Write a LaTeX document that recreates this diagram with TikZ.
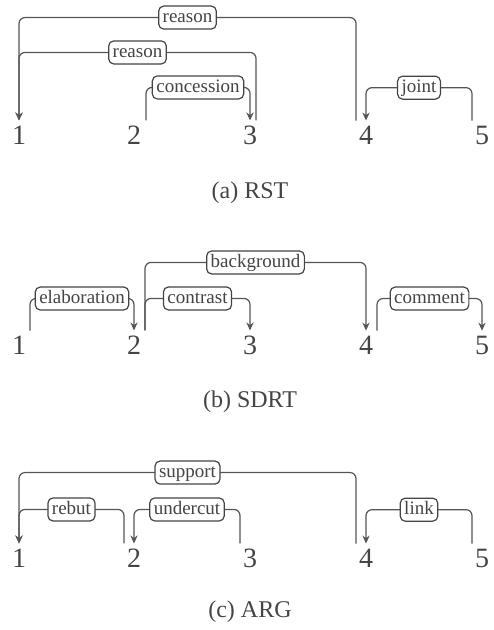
\documentclass[tikz,border=0pt]{standalone}
\usepackage{fontspec}
\setmainfont{Liberation Serif}
\usepackage{tikz}
\usetikzlibrary{arrows.meta}

\definecolor{txtgray}{HTML}{444444}
\definecolor{linegray}{HTML}{555555}

\begin{document}
\begin{tikzpicture}[x=0.5pt,y=0.5pt,>={Stealth[length=4pt,width=3.6pt]},
  num/.style={font=\fontsize{14}{16}\selectfont,text=txtgray,inner xsep=0pt,inner ysep=3pt,outer sep=0pt,anchor=base},
  rel/.style={draw=linegray,line width=0.6pt,rounded corners=3pt},
  lbl/.style={draw=txtgray,fill=white,rounded corners=2.5pt,inner xsep=2pt,inner ysep=1.25pt,
    text height=6.8pt,text depth=2.2pt,font=\fontsize{9.5}{11}\selectfont,text=txtgray},
  capt/.style={font=\fontsize{12}{14}\selectfont,text=txtgray,anchor=base}]

  \useasboundingbox (0,0) rectangle (493,630);

  % (a) RST
  \node[num] (a1) at (19,485)  {1};
  \node[num] (a2) at (134,485) {2};
  \node[num] (a3) at (250,485) {3};
  \node[num] (a4) at (366,485) {4};
  \node[num] (a5) at (482,485) {5};
  \draw[rel,->] ([xshift=-5pt]a4.north) -- ++(0,103) -| node[lbl,pos=0.25] {reason} (a1.north);
  \draw[rel,->] ([xshift=3pt]a3.north) -- ++(0,68) -| node[lbl,pos=0.25] {reason} (a1.north);
  \draw[rel,->] ([xshift=6pt]a2.north) -- ++(0,33) -| node[lbl,pos=0.25] {concession} (a3.north);
  \draw[rel,->] ([xshift=-5pt]a5.north) -- ++(0,33) -| node[lbl,pos=0.25] {joint} (a4.north);
  \node[capt] (capa) at (250,431) {(a) RST};

  % (b) SDRT
  \node[num] (b1) at (19,275)  {1};
  \node[num] (b2) at (134,275) {2};
  \node[num] (b3) at (250,275) {3};
  \node[num] (b4) at (366,275) {4};
  \node[num] (b5) at (482,275) {5};
  \draw[rel,->] ([xshift=5.5pt]b1.north) -- ++(0,32) -| node[lbl,pos=0.25] {elaboration} (b2.north);
  \draw[rel,->] ([xshift=5.5pt]b2.north) -- ++(0,68) -| node[lbl,pos=0.25] {background} (b4.north);
  \draw[rel,->] ([xshift=5.5pt]b2.north) -- ++(0,32) -| node[lbl,pos=0.25] {contrast} (b3.north);
  \draw[rel,->] ([xshift=5.5pt]b4.north) -- ++(0,32) -| node[lbl,pos=0.25] {comment} (b5.north);
  \node[capt] (capb) at (250,222) {(b) SDRT};

  % (c) ARG
  \node[num] (c1) at (19,62)  {1};
  \node[num] (c2) at (134,62) {2};
  \node[num] (c3) at (250,62) {3};
  \node[num] (c4) at (366,62) {4};
  \node[num] (c5) at (482,62) {5};
  \draw[rel,->] ([xshift=-5pt]c4.north) -- ++(0,71) -| node[lbl,pos=0.25] {support} (c1.north);
  \draw[rel,->] ([xshift=-5pt]c2.north) -- ++(0,34) -| node[lbl,pos=0.25] {rebut} (c1.north);
  \draw[rel,->] ([xshift=-5pt]c3.north) -- ++(0,34) -| node[lbl,pos=0.25] {undercut} (c2.north);
  \draw[rel,->] ([xshift=-5pt]c5.north) -- ++(0,34) -| node[lbl,pos=0.25] {link} (c4.north);
  \node[capt] (capc) at (250,12) {(c) ARG};
\end{tikzpicture}
\end{document}
